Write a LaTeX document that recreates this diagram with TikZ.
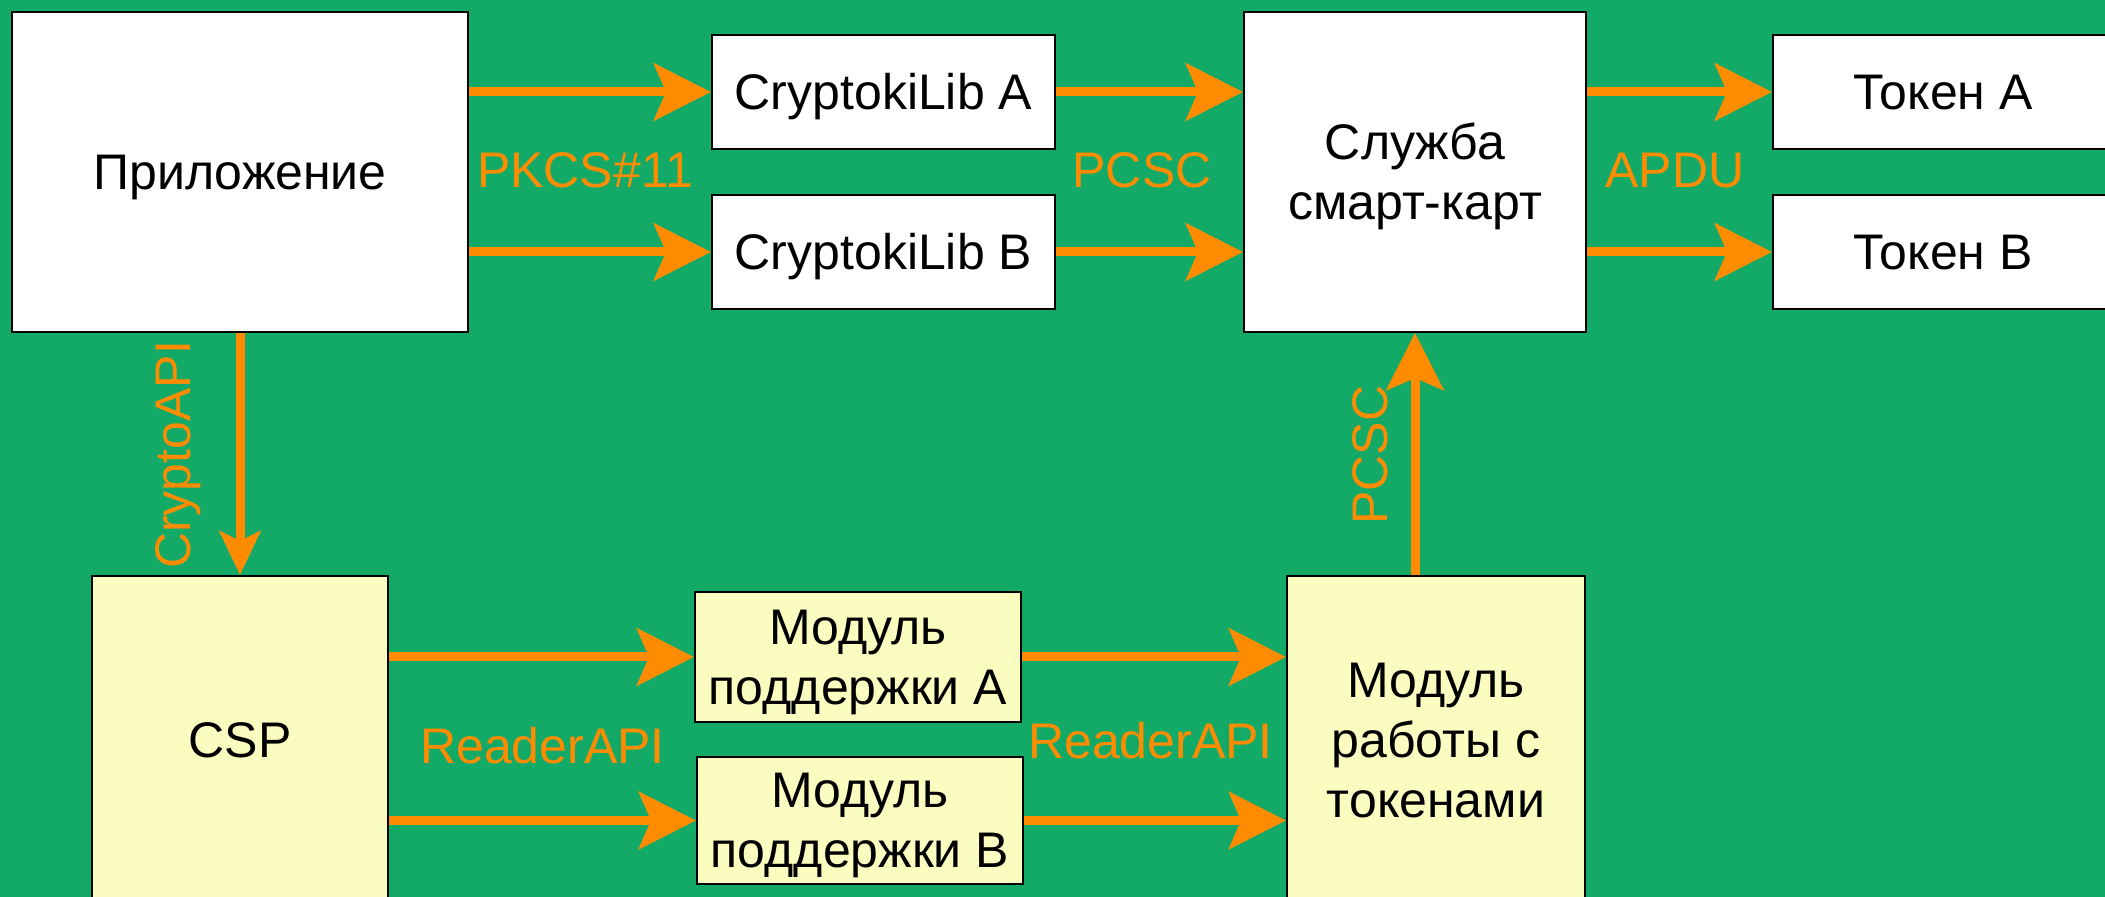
\documentclass[tikz,border=0pt]{standalone}
\usepackage{fontspec}
\setmainfont{Liberation Sans}
\usetikzlibrary{arrows.meta}

\definecolor{bggreen}{RGB}{19,170,103}
\definecolor{flow}{RGB}{255,140,0}
\definecolor{modfill}{RGB}{250,252,192}

% one text row: fixed ascent and descent so every line is 1.2em tall
\newcommand\rowstrut{\rule[-0.2535em]{0pt}{1.2em}}

\begin{document}
\begin{tikzpicture}[x=0.5pt, y=-0.5pt,
  every node/.style={font=\fontsize{25pt}{30pt}\selectfont},
  block/.style={draw=black, line width=1pt, fill=white, inner sep=0pt, align=center},
  module/.style={block, fill=modfill},
  link/.style={draw=flow, line width=4.5pt, -{Stealth[length=28.5pt,width=28.5pt,inset=6pt]}},
  thinlink/.style={link, -{Stealth[length=22pt,width=20.5pt,inset=5pt]}},
  tag/.style={text=flow, inner sep=0pt, anchor=base}
]
\fill[bggreen] (0,0) rectangle (2105,897);
\useasboundingbox (0,0) rectangle (2105,897);

% upper row
\node[block, minimum width=228pt, minimum height=160pt] (app) at (240,172) {\rowstrut Приложение};
\node[block, minimum width=171.5pt, minimum height=57pt] (cA) at (883.5,92) {\rowstrut CryptokiLib A};
\node[block, minimum width=171.5pt, minimum height=57pt] (cB) at (883.5,252) {\rowstrut CryptokiLib B};
\node[block, minimum width=171pt, minimum height=160pt] (svc) at (1415,172) {\rowstrut Служба\\\rowstrut смарт-карт};
\node[block, minimum width=170pt, minimum height=57pt] (tA) at (1943,92) {\rowstrut Токен A};
\node[block, minimum width=170pt, minimum height=57pt] (tB) at (1943,252) {\rowstrut Токен B};

% lower row
\node[module, minimum width=148pt, minimum height=164pt] (csp) at (240,740) {\rowstrut CSP};
\node[module, minimum width=163pt, minimum height=65pt] (mA) at (858,657) {\rowstrut Модуль\\\rowstrut поддержки A};
\node[module, minimum width=163pt, minimum height=63.5pt] (mB) at (860,820.5) {\rowstrut Модуль\\\rowstrut поддержки B};
\node[module, minimum width=149pt, minimum height=164pt] (tok) at (1436,740) {\rowstrut Модуль\\\rowstrut работы с\\\rowstrut токенами};

% interface labels
\node[tag] (lpk) at (585,188) {PKCS\#11};
\node[tag] (lpc) at (1142,188) {PCSC};
\node[tag] (lap) at (1675,188) {APDU};
\node[tag, rotate=90] (lcr) at (190,455) {CryptoAPI};
\node[tag, rotate=90] (lpv) at (1387,455) {PCSC};
\node[tag] (lr1) at (542.5,763) {ReaderAPI};
\node[tag] (lr2) at (1150.5,758) {ReaderAPI};

% connectors
\draw[link] (app.east |- cA.west) -- (cA.west);
\draw[link] (app.east |- cB.west) -- (cB.west);
\draw[link] (cA.east) -- (cA.east -| svc.west);
\draw[link] (cB.east) -- (cB.east -| svc.west);
\draw[link] (svc.east |- tA.west) -- (tA.west);
\draw[link] (svc.east |- tB.west) -- (tB.west);
\draw[thinlink] (app.south) -- (csp.north);
\draw[link] (csp.east |- mA.west) -- (mA.west);
\draw[link] (csp.east |- mB.west) -- (mB.west);
\draw[link] (mA.east) -- (mA.east -| tok.west);
\draw[link] (mB.east) -- (mB.east -| tok.west);
\draw[link] (svc.south |- tok.north) -- (svc.south);
\end{tikzpicture}
\end{document}
